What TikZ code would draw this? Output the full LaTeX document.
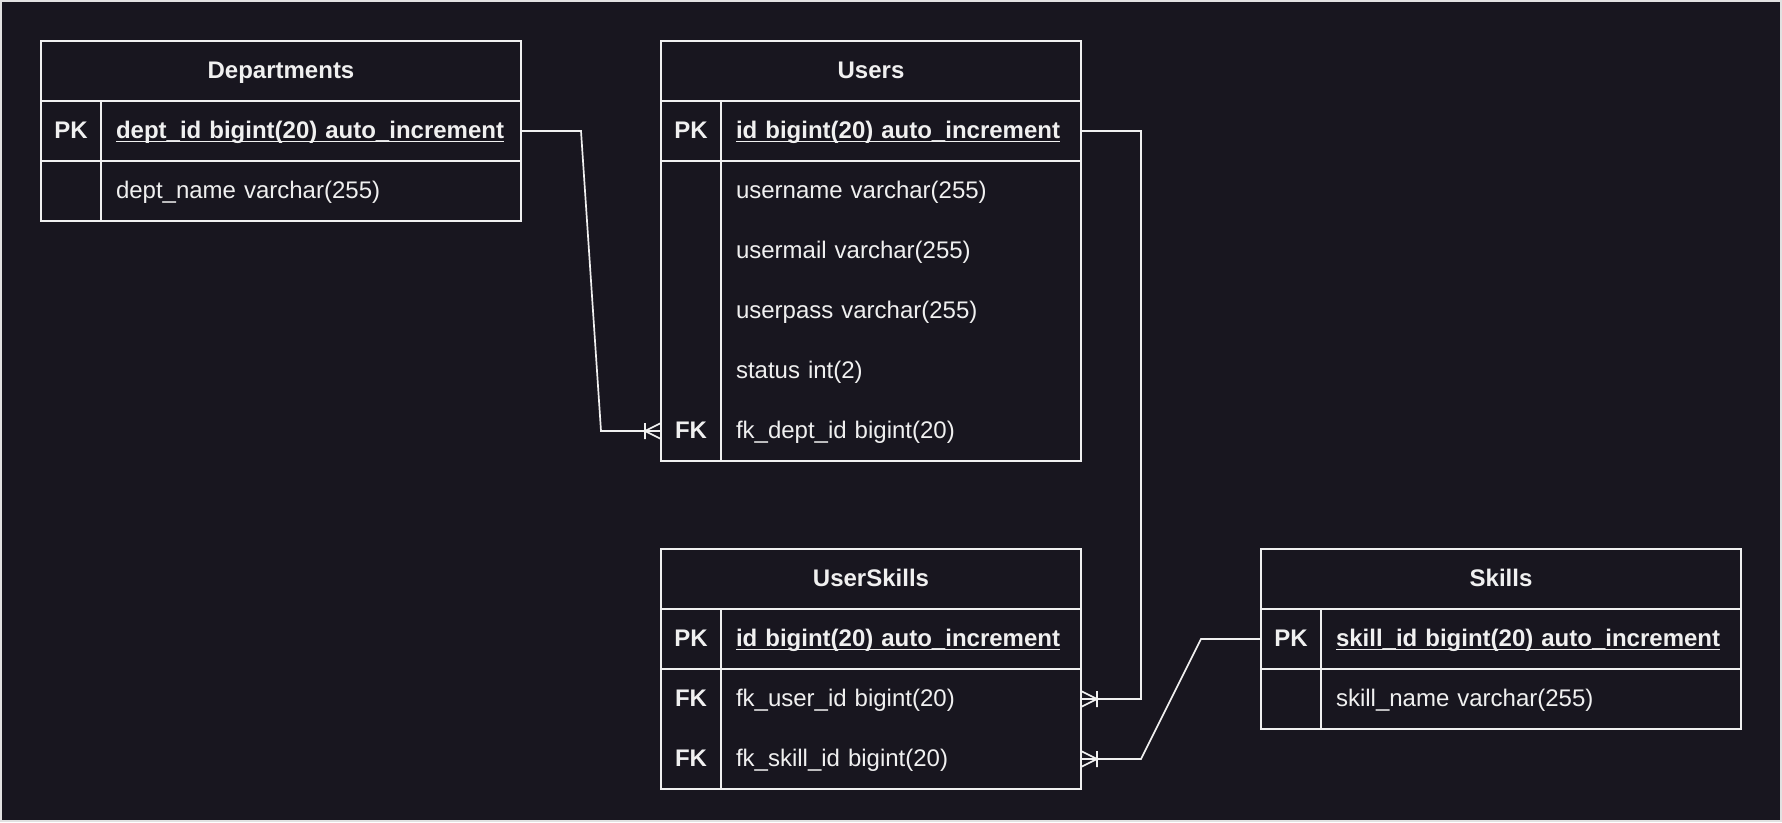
\documentclass[tikz,border=0pt]{standalone}
\usepackage{fontspec}
\setmainfont{Liberation Sans}
\usepackage{tikz}
\usetikzlibrary{positioning, calc}
\definecolor{ERBack}{RGB}{24,22,31}
\definecolor{ERInk}{RGB}{240,240,240}
\definecolor{ERFrame}{RGB}{225,225,225}
% bold, underlined primary key field
\newcommand{\pkfield}[1]{\setbox0\hbox{\bfseries #1}\rlap{\rule[-4.3pt]{\wd0}{1.8pt}}\box0}

\begin{document}
\begin{tikzpicture}[
            x=1pt, y=-1pt,
            head/.style={minimum width=#1, minimum height=60pt, inner sep=0pt,
                         outer sep=0pt, text=ERInk, text height=17pt, text depth=3pt,
                         font=\bfseries\fontsize{24}{28}\selectfont},
            key/.style={minimum width=60pt, minimum height=60pt, inner sep=0pt,
                        outer sep=0pt, text=ERInk, text height=17pt, text depth=3pt,
                        font=\bfseries\fontsize{24}{28}\selectfont},
            fld/.style={text width=#1, minimum height=60pt, inner xsep=15pt,
                        inner ysep=0pt, outer sep=0pt, align=left, text=ERInk,
                        text height=17pt, text depth=3pt,
                        font=\fontsize{24}{28}\selectfont},
            edge/.style={draw=ERInk, line width=1.7pt},
            rel/.style={draw=ERInk, line width=1.7pt},
            crowfoot/.pic={\draw[rel] (-16,0) -- (0,-8) (-16,0) -- (0,8)
                                      (-16,-8) -- (-16,8);}
          ]
          \useasboundingbox (0,0) rectangle (1782,822);
          \fill[ERBack] (0,0) rectangle (1782,822);
          \draw[ERFrame, line width=2pt] (1,1) rectangle (1781,821);

          % Departments
          \node[head=480pt, anchor=north west] (deptH) at (41,41) {Departments};
          \node[key, anchor=north west] (deptK1) at (deptH.south west) {PK};
          \node[fld=390pt, right=0pt of deptK1] (deptF1)
                {\pkfield{dept\_id bigint(20) auto\_increment}};
          \node[key, below=0pt of deptK1] (deptK2) {};
          \node[fld=390pt, right=0pt of deptK2] (deptF2) {dept\_name varchar(255)};
          \draw[edge] (deptH.north west) rectangle (deptF2.south east);
          \draw[edge] (deptH.south west) -- (deptH.south east);
          \draw[edge] (deptK1.south west) -- (deptF1.south east);
          \draw[edge] (deptK1.north east) -- (deptK2.south east);

          % Users
          \node[head=420pt, anchor=north west] (usrH) at (661,41) {Users};
          \node[key, anchor=north west] (usrK1) at (usrH.south west) {PK};
          \node[fld=330pt, right=0pt of usrK1] (usrF1)
                {\pkfield{id bigint(20) auto\_increment}};
          \node[key, below=0pt of usrK1] (usrK2) {};
          \node[fld=330pt, right=0pt of usrK2] (usrF2) {username varchar(255)};
          \node[key, below=0pt of usrK2] (usrK3) {};
          \node[fld=330pt, right=0pt of usrK3] (usrF3) {usermail varchar(255)};
          \node[key, below=0pt of usrK3] (usrK4) {};
          \node[fld=330pt, right=0pt of usrK4] (usrF4) {userpass varchar(255)};
          \node[key, below=0pt of usrK4] (usrK5) {};
          \node[fld=330pt, right=0pt of usrK5] (usrF5) {status int(2)};
          \node[key, below=0pt of usrK5] (usrK6) {FK};
          \node[fld=330pt, right=0pt of usrK6] (usrF6) {fk\_dept\_id bigint(20)};
          \draw[edge] (usrH.north west) rectangle (usrF6.south east);
          \draw[edge] (usrH.south west) -- (usrH.south east);
          \draw[edge] (usrK1.south west) -- (usrF1.south east);
          \draw[edge] (usrK1.north east) -- (usrK6.south east);

          % UserSkills
          \node[head=420pt, anchor=north west] (uskH) at (661,549) {UserSkills};
          \node[key, anchor=north west] (uskK1) at (uskH.south west) {PK};
          \node[fld=330pt, right=0pt of uskK1] (uskF1)
                {\pkfield{id bigint(20) auto\_increment}};
          \node[key, below=0pt of uskK1] (uskK2) {FK};
          \node[fld=330pt, right=0pt of uskK2] (uskF2) {fk\_user\_id bigint(20)};
          \node[key, below=0pt of uskK2] (uskK3) {FK};
          \node[fld=330pt, right=0pt of uskK3] (uskF3) {fk\_skill\_id bigint(20)};
          \draw[edge] (uskH.north west) rectangle (uskF3.south east);
          \draw[edge] (uskH.south west) -- (uskH.south east);
          \draw[edge] (uskK1.south west) -- (uskF1.south east);
          \draw[edge] (uskK1.north east) -- (uskK3.south east);

          % Skills
          \node[head=480pt, anchor=north west] (sklH) at (1261,549) {Skills};
          \node[key, anchor=north west] (sklK1) at (sklH.south west) {PK};
          \node[fld=390pt, right=0pt of sklK1] (sklF1)
                {\pkfield{skill\_id bigint(20) auto\_increment}};
          \node[key, below=0pt of sklK1] (sklK2) {};
          \node[fld=390pt, right=0pt of sklK2] (sklF2) {skill\_name varchar(255)};
          \draw[edge] (sklH.north west) rectangle (sklF2.south east);
          \draw[edge] (sklH.south west) -- (sklH.south east);
          \draw[edge] (sklK1.south west) -- (sklF1.south east);
          \draw[edge] (sklK1.north east) -- (sklK2.south east);

          % relations
          \draw[rel] (deptF1.east) -- ++(60,0) -- ($(usrK6.west)+(-60,0)$) -- (usrK6.west);
          \pic at (usrK6.west) {crowfoot};
          \draw[rel] (usrF1.east) -- ++(60,0) |- (uskF2.east);
          \pic[rotate=180] at (uskF2.east) {crowfoot};
          \draw[rel] (sklK1.west) -- ++(-60,0) -- ($(uskF3.east)+(60,0)$) -- (uskF3.east);
          \pic[rotate=180] at (uskF3.east) {crowfoot};
        \end{tikzpicture}
\end{document}
